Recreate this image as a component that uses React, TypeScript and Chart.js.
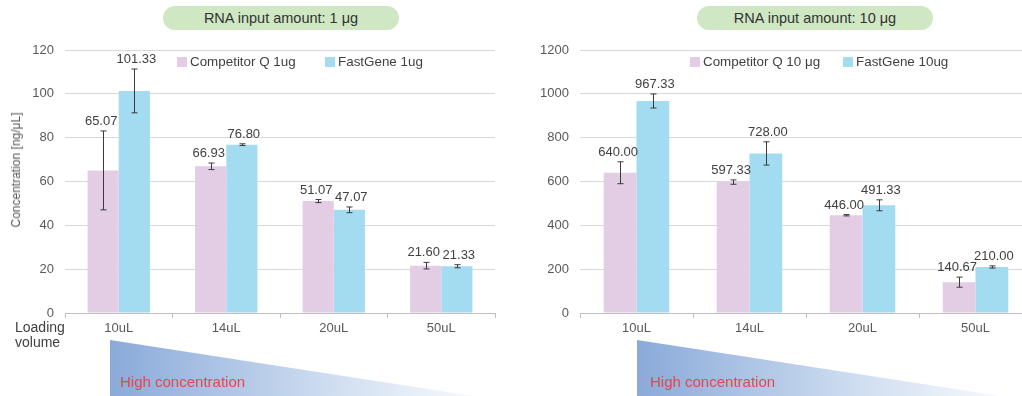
import React, { useEffect, useRef } from 'react';
import { Chart, registerables } from 'chart.js';

Chart.register(...registerables);

const categories = ['10uL', '14uL', '20uL', '50uL'];

const comp1 = [65.07, 66.93, 51.07, 21.6];
const comp1Err = [18, 1.5, 0.7, 1.5];
const fast1 = [101.33, 76.8, 47.07, 21.33];
const fast1Err = [10, 0.4, 1.3, 0.7];

const comp10 = [640.0, 597.33, 446.0, 140.67];
const comp10Err = [50, 10, 3, 23];
const fast10 = [967.33, 728.0, 491.33, 210.0];
const fast10Err = [32, 53, 25, 5];

const FONT = '"Liberation Sans", Arial, sans-serif';
const PINK = '#e2cde5';
const BLUE = '#a3dcf0';

const errLabelPlugin = {
  id: 'errLabels',
  afterDatasetsDraw(chart: any) {
    const ctx = chart.ctx;
    const y = chart.scales.y;
    chart.data.datasets.forEach((ds: any, di: number) => {
      const meta = chart.getDatasetMeta(di);
      const shift = di === 0 ? -2 : 2;
      meta.data.forEach((bar: any, i: number) => {
        const v = ds.data[i];
        const e = ds.errors[i];
        const x = Math.round(bar.x) + 0.5;
        const yt = y.getPixelForValue(v + e);
        const yb = y.getPixelForValue(v - e);
        ctx.save();
        ctx.strokeStyle = '#3a3a3a';
        ctx.lineWidth = 1;
        ctx.beginPath();
        ctx.moveTo(x, yt);
        ctx.lineTo(x, yb);
        ctx.moveTo(x - 3, yt);
        ctx.lineTo(x + 3, yt);
        ctx.moveTo(x - 3, yb);
        ctx.lineTo(x + 3, yb);
        ctx.stroke();
        ctx.fillStyle = '#404040';
        ctx.font = '13px ' + FONT;
        ctx.textAlign = 'center';
        ctx.textBaseline = 'bottom';
        ctx.fillText(v.toFixed(2), bar.x + shift, Math.min(yt, bar.y) - 3);
        ctx.restore();
      });
    });
  },
};

function makeConfig(
  a: number[], aErr: number[], b: number[], bErr: number[],
  max: number, step: number, yWidth: number, padRight: number
): any {
  return {
    type: 'bar',
    data: {
      labels: categories,
      datasets: [
        { label: 'a', data: a, errors: aErr, backgroundColor: PINK, borderWidth: 0 },
        { label: 'b', data: b, errors: bErr, backgroundColor: BLUE, borderWidth: 0 },
      ],
    },
    options: {
      responsive: false,
      animation: false,
      devicePixelRatio: 1,
      layout: { padding: { top: 50, right: padRight, left: 0, bottom: 0 } },
      plugins: { legend: { display: false }, tooltip: { enabled: false } },
      datasets: { bar: { barPercentage: 1, categoryPercentage: 0.58 } },
      scales: {
        x: {
          afterFit: (s: any) => { s.height = 83; },
          grid: { display: true, drawOnChartArea: false, drawTicks: true, tickLength: 5, color: '#bfbfbf', offset: true },
          border: { display: true, color: '#bfbfbf', width: 1 },
          ticks: { color: '#595959', font: { family: FONT, size: 13 }, padding: 3 },
        },
        y: {
          min: 0,
          max,
          afterFit: (s: any) => { s.width = yWidth; },
          grid: { color: '#d9d9d9', drawTicks: false },
          border: { display: false },
          ticks: {
            stepSize: step,
            color: '#595959',
            font: { family: FONT, size: 13 },
            padding: 11,
            callback: (v: any) => String(v),
          },
        },
      },
    },
    plugins: [errLabelPlugin],
  };
}

function BarChart(props: { config: any; left: number; width: number }) {
  const ref = useRef<HTMLCanvasElement>(null);
  useEffect(() => {
    const c = new Chart(ref.current as HTMLCanvasElement, props.config);
    return () => c.destroy();
  }, []);
  return (
    <canvas
      ref={ref}
      width={props.width}
      height={396}
      style={{ position: 'absolute', left: props.left, top: 0, width: props.width, height: 396 }}
    />
  );
}

const text = (extra: any): any => ({
  position: 'absolute',
  fontFamily: FONT,
  whiteSpace: 'nowrap',
  ...extra,
});

function Pill(props: { left: number; label: string }) {
  return (
    <div
      style={text({
        left: props.left, top: 6, width: 236, height: 24, borderRadius: 12,
        background: '#cfe7c3', color: '#333', fontSize: 14.5, lineHeight: '24px', textAlign: 'center',
      })}
    >
      {props.label}
    </div>
  );
}

function LegendItem(props: { left: number; color: string; label: string }) {
  return (
    <div style={text({ left: props.left, top: 54, fontSize: 13.4, lineHeight: '16px', color: '#404040', display: 'flex', alignItems: 'center' })}>
      <span style={{ display: 'inline-block', width: 10, height: 10, background: props.color, marginRight: 3 }} />
      {props.label}
    </div>
  );
}

function Wedge(props: { left: number; id: string }) {
  const w = 390;
  return (
    <svg style={{ position: 'absolute', left: props.left, top: 340, overflow: 'visible' }} width={w} height={60}>
      <defs>
        <linearGradient id={props.id} x1="0" y1="0" x2="1" y2="0">
          <stop offset="0" stopColor="#8aaad9" />
          <stop offset="0.55" stopColor="#cddcf0" />
          <stop offset="1" stopColor="#ffffff" />
        </linearGradient>
      </defs>
      <polygon points={`0,0 ${w},60 0,60`} fill={`url(#${props.id})`} />
    </svg>
  );
}

export default function App() {
  const left = makeConfig(comp1, comp1Err, fast1, fast1Err, 120, 20, 65, 15);
  const right = makeConfig(comp10, comp10Err, fast10, fast10Err, 1200, 200, 68, 0);
  return (
    <div style={{ position: 'fixed', left: 0, top: 0, width: 1022, height: 396, overflow: 'hidden', background: '#fff' }}>
      <Wedge left={110} id="g1" />
      <Wedge left={637} id="g2" />
      <BarChart config={left} left={0} width={510} />
      <BarChart config={right} left={512} width={520} />
      <Pill left={163} label="RNA input amount: 1 μg" />
      <Pill left={697} label="RNA input amount: 10 μg" />
      <LegendItem left={177} color={PINK} label="Competitor Q 1ug" />
      <LegendItem left={325} color={BLUE} label="FastGene 1ug" />
      <LegendItem left={690} color={PINK} label="Competitor Q 10 μg" />
      <LegendItem left={843} color={BLUE} label="FastGene 10ug" />
      <div
        style={text({
          left: 16, top: 170, fontSize: 12, color: '#595959', lineHeight: '14px',
          transform: 'translate(-50%, -50%) rotate(-90deg)',
        })}
      >
        Concentration [ng/μL]
      </div>
      <div style={text({ left: 15, top: 320, fontSize: 14, lineHeight: '15px', color: '#404040' })}>
        Loading
        <br />
        volume
      </div>
      <div style={text({ left: 120, top: 373, fontSize: 15, lineHeight: '18px', color: '#e8454e' })}>High concentration</div>
      <div style={text({ left: 650, top: 373, fontSize: 15, lineHeight: '18px', color: '#e8454e' })}>High concentration</div>
    </div>
  );
}
